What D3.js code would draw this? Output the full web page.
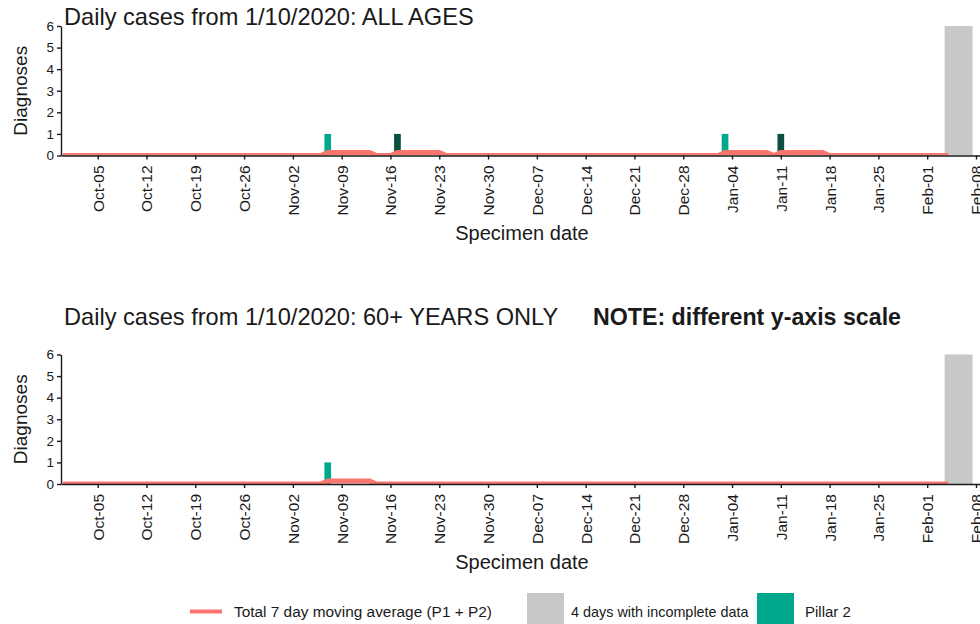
<!DOCTYPE html>
<html>
<head>
<meta charset="utf-8">
<script src="https://cdn.jsdelivr.net/npm/d3@7/dist/d3.min.js"></script>
<style>
  html, body { margin: 0; padding: 0; background: #ffffff; }
  svg { display: block; font-family: "Liberation Sans", Arial, sans-serif; }
  .tick text { fill: #1a1a1a; }
</style>
</head>
<body>
<svg id="chart" width="980" height="624"></svg>
<script>
// ---- data -------------------------------------------------------------
// Weekly tick labels on the date axis
const tickDates = ["2020-10-05","2020-10-12","2020-10-19","2020-10-26","2020-11-02","2020-11-09",
  "2020-11-16","2020-11-23","2020-11-30","2020-12-07","2020-12-14","2020-12-21","2020-12-28",
  "2021-01-04","2021-01-11","2021-01-18","2021-01-25","2021-02-01","2021-02-08"];
const yTicks = [0, 1, 2, 3, 4, 5, 6];

// Days whose counts are still incomplete (shaded to the top of the axis)
const incompleteDates = ["2021-02-04","2021-02-05","2021-02-06","2021-02-07"];
const incompleteValue = 6;

// ALL AGES: daily diagnoses
const allPillar2Dates  = ["2020-11-07","2021-01-03"];
const allPillar2Values = [1, 1];
const allPillar1Dates  = ["2020-11-17","2021-01-11"];
const allPillar1Values = [1, 1];
// ALL AGES: 7 day moving average (P1 + P2), values at the days where it changes
const allAvgDates  = ["2020-09-30","2020-11-06","2020-11-07","2020-11-13","2020-11-14","2020-11-16",
  "2020-11-17","2020-11-23","2020-11-24","2021-01-02","2021-01-03","2021-01-09","2021-01-10",
  "2021-01-11","2021-01-17","2021-01-18","2021-02-04"];
const allAvgValues = [0, 0, 0.143, 0.143, 0, 0, 0.143, 0.143, 0, 0, 0.143, 0.143, 0, 0.143, 0.143, 0, 0];

// 60+ YEARS: daily diagnoses
const oldPillar2Dates  = ["2020-11-07"];
const oldPillar2Values = [1];
const oldPillar1Dates  = [];
const oldPillar1Values = [];
// 60+ YEARS: 7 day moving average (P1 + P2)
const oldAvgDates  = ["2020-09-30","2020-11-06","2020-11-07","2020-11-13","2020-11-14","2021-02-04"];
const oldAvgValues = [0, 0, 0.143, 0.143, 0, 0];

// ---- setup ------------------------------------------------------------
const parse = d3.utcParse("%Y-%m-%d");
const fmt = d3.utcFormat("%b-%d");
const DAY = 86400000;

const COL_AVG = "#f8766d";
const COL_P2 = "#00a98b";
const COL_P1 = "#0b4f3f";
const COL_GREY = "#c8c8c8";
const COL_TEXT = "#1a1a1a";

const svg = d3.select("#chart");
const defs = svg.append("defs");

// Time scale: pinned so Oct-05 and Feb-08 land on their ticks, then widened to the panel edges
const xBase = d3.scaleUtc().domain([parse("2020-10-05"), parse("2021-02-08")]).range([97.7, 976]);
const X0 = 61, X1 = 985;
const x = d3.scaleUtc().domain([xBase.invert(X0), xBase.invert(X1)]).range([X0, X1]);
const dayW = x(new Date(DAY * 1)) - x(new Date(0));
const barFrac = 0.96;

function panel(opts) {
  const { id, top, bottom, p2Dates, p2Values, p1Dates, p1Values, avgDates, avgValues } = opts;
  const y = d3.scaleLinear().domain([0, 6]).range([bottom, top]);
  const g = svg.append("g");

  // plot area clip
  defs.append("clipPath").attr("id", id)
    .append("rect").attr("x", X0).attr("y", top - 1).attr("width", X1 - X0).attr("height", bottom - top + 1);
  const plot = g.append("g").attr("clip-path", `url(#${id})`);

  // incomplete-data shading (slightly overlapping so adjacent days join seamlessly)
  plot.selectAll("rect.grey").data(incompleteDates).join("rect")
    .attr("x", d => x(parse(d)) - dayW / 2)
    .attr("width", (d, i) => i < incompleteDates.length - 1 ? dayW + 1 : dayW)
    .attr("y", y(incompleteValue))
    .attr("height", y(0) - y(incompleteValue))
    .attr("fill", COL_GREY);

  const bars = (dates, values, colour) => plot.append("g").selectAll("rect")
    .data(dates.map((d, i) => ({ date: parse(d), v: values[i] }))).join("rect")
    .attr("x", d => x(d.date) - dayW * barFrac / 2)
    .attr("width", dayW * barFrac)
    .attr("y", d => y(d.v))
    .attr("height", d => y(0) - y(d.v))
    .attr("fill", colour);
  bars(p2Dates, p2Values, COL_P2);
  bars(p1Dates, p1Values, COL_P1);

  // moving average
  const line = d3.line().x(d => x(d.date)).y(d => y(d.v));
  plot.append("path")
    .datum(avgDates.map((d, i) => ({ date: parse(d), v: avgValues[i] })))
    .attr("d", line)
    .attr("fill", "none")
    .attr("stroke", COL_AVG)
    .attr("stroke-width", 5)
    .attr("stroke-linejoin", "round");

  // axes
  const xAxis = d3.axisBottom(x)
    .tickValues(tickDates.map(parse))
    .tickFormat(fmt)
    .tickSize(4)
    .tickSizeOuter(0);
  const gx = g.append("g").attr("transform", `translate(0,${y(0)})`).call(xAxis);
  gx.select(".domain").attr("stroke", COL_TEXT).attr("stroke-width", 1.4);
  gx.selectAll(".tick line").attr("stroke", COL_TEXT).attr("stroke-width", 1.4);
  gx.selectAll(".tick text")
    .attr("font-size", 15.5)
    .attr("transform", "rotate(-90)")
    .attr("text-anchor", "end")
    .attr("x", -10)
    .attr("y", 0)
    .attr("dy", "0.35em");

  const yAxis = d3.axisLeft(y).tickValues(yTicks).tickFormat(d3.format("d"))
    .tickSize(4).tickPadding(3).tickSizeOuter(0);
  const gy = g.append("g").attr("transform", `translate(${X0},0)`).call(yAxis);
  gy.select(".domain").attr("stroke", COL_TEXT).attr("stroke-width", 1.4);
  gy.selectAll(".tick line").attr("stroke", COL_TEXT).attr("stroke-width", 1.4);
  gy.selectAll(".tick text").attr("font-size", 13.5);

  g.append("text")
    .attr("transform", `translate(27,${(top + bottom) / 2}) rotate(-90)`)
    .attr("text-anchor", "middle")
    .attr("font-size", 19)
    .attr("fill", COL_TEXT)
    .text("Diagnoses");

  g.append("text")
    .attr("x", 522).attr("y", bottom + 84.5)
    .attr("text-anchor", "middle")
    .attr("font-size", 20)
    .attr("fill", COL_TEXT)
    .text("Specimen date");
}

// ---- top panel: all ages ---------------------------------------------
svg.append("text").attr("x", 64).attr("y", 25)
  .attr("font-size", 23.6).attr("fill", COL_TEXT)
  .text("Daily cases from 1/10/2020: ALL AGES");
panel({ id: "clip-all", top: 26, bottom: 155.5,
  p2Dates: allPillar2Dates, p2Values: allPillar2Values,
  p1Dates: allPillar1Dates, p1Values: allPillar1Values,
  avgDates: allAvgDates, avgValues: allAvgValues });

// ---- bottom panel: 60+ ------------------------------------------------
svg.append("text").attr("x", 64).attr("y", 325)
  .attr("font-size", 23.6).attr("fill", COL_TEXT)
  .text("Daily cases from 1/10/2020: 60+ YEARS ONLY");
svg.append("text").attr("x", 593).attr("y", 325)
  .attr("font-size", 23.2).attr("font-weight", "bold").attr("fill", COL_TEXT)
  .text("NOTE: different y-axis scale");
panel({ id: "clip-old", top: 354.5, bottom: 484,
  p2Dates: oldPillar2Dates, p2Values: oldPillar2Values,
  p1Dates: oldPillar1Dates, p1Values: oldPillar1Values,
  avgDates: oldAvgDates, avgValues: oldAvgValues });

// ---- legend -------------------------------------------------------------
const lg = svg.append("g");
lg.append("line").attr("x1", 190).attr("x2", 222).attr("y1", 611.5).attr("y2", 611.5)
  .attr("stroke", COL_AVG).attr("stroke-width", 4);
lg.append("text").attr("x", 234).attr("y", 617).attr("font-size", 15.4).attr("fill", COL_TEXT)
  .text("Total 7 day moving average (P1 + P2)");
lg.append("rect").attr("x", 527).attr("y", 593).attr("width", 37).attr("height", 37).attr("fill", COL_GREY);
lg.append("text").attr("x", 571).attr("y", 617).attr("font-size", 14.4).attr("fill", COL_TEXT)
  .text("4 days with incomplete data");
lg.append("rect").attr("x", 757).attr("y", 593).attr("width", 37).attr("height", 37).attr("fill", COL_P2);
lg.append("text").attr("x", 805).attr("y", 617).attr("font-size", 15).attr("fill", COL_TEXT)
  .text("Pillar 2");
</script>
</body>
</html>
